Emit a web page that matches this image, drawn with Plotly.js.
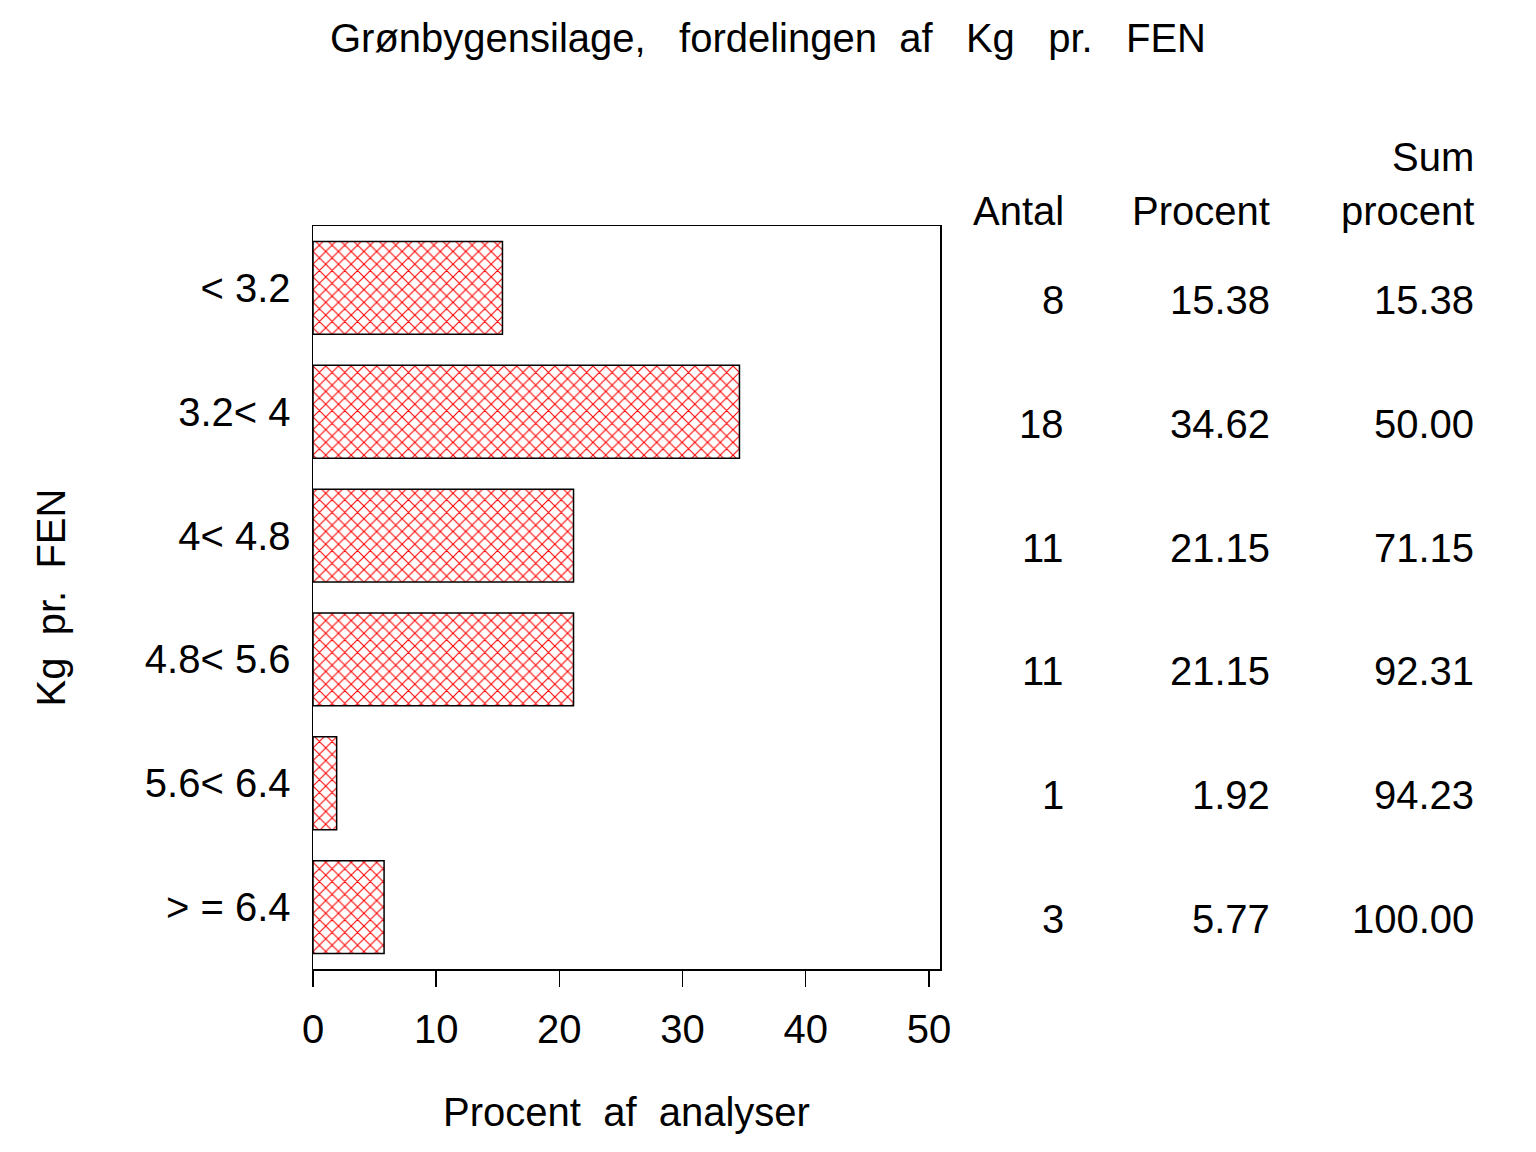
<!DOCTYPE html>
<html>
<head>
<meta charset="utf-8">
<script src="https://cdn.plot.ly/plotly-3.0.1.min.js"></script>
<style>html,body{margin:0;padding:0;background:#fff;}</style>
</head>
<body>
<div id="chart" style="width:1536px;height:1152px;"></div>
<script>
var categories = ["< 3.2", "3.2< 4", "4< 4.8", "4.8< 5.6", "5.6< 6.4", "> = 6.4"];
var antal = [8, 18, 11, 11, 1, 3];
var procent = [15.38, 34.62, 21.15, 21.15, 1.92, 5.77];
var sumProcent = [15.38, 50.00, 71.15, 92.31, 94.23, 100.00];
var xTicks = [0, 10, 20, 30, 40, 50];
var headerTop = ["", "", "Sum"];
var headerBottom = ["Antal", "Procent", "procent"];
var titleText = "Grønbygensilage,\u00a0\u00a0 fordelingen\u00a0 af\u00a0\u00a0 Kg\u00a0\u00a0 pr.\u00a0\u00a0 FEN";
var xTitle = "Procent\u00a0 af\u00a0 analyser";
var yTitle = "Kg\u00a0 pr.\u00a0 FEN";

var FONT = "Liberation Sans, Arial, sans-serif";
var colX = [1.2010, 1.5295, 1.8549];

var annotations = [];
var cols = [antal.map(String), procent.map(function(v){return v.toFixed(2);}), sumProcent.map(function(v){return v.toFixed(2);})];
for (var c = 0; c < cols.length; c++) {
  for (var r = 0; r < categories.length; r++) {
    annotations.push({xref: "paper", yref: "y", x: colX[c], y: categories[r], text: cols[c][r],
      xanchor: "right", yanchor: "middle", yshift: -12, showarrow: false,
      font: {family: FONT, size: 40, color: "#000"}});
  }
  if (headerTop[c]) annotations.push({xref: "paper", yref: "paper", x: colX[c], y: (969-157)/743, text: headerTop[c],
      xanchor: "right", yanchor: "middle", showarrow: false, font: {family: FONT, size: 40, color: "#000"}});
  annotations.push({xref: "paper", yref: "paper", x: colX[c], y: (969-211)/743, text: headerBottom[c],
      xanchor: "right", yanchor: "middle", showarrow: false, font: {family: FONT, size: 40, color: "#000"}});
}

var trace = {
  type: "bar", orientation: "h", y: categories, x: procent,
  marker: {color: "#fff", line: {color: "#000", width: 1.5},
    pattern: {shape: "x", fgcolor: "#ff0000", bgcolor: "#ffffff", size: 9, solidity: 0.22}},
  hoverinfo: "skip"
};

var layout = {
  width: 1536, height: 1152,
  margin: {l: 313, r: 596, t: 226, b: 183},
  paper_bgcolor: "#fff", plot_bgcolor: "#fff",
  showlegend: false, bargap: 0.25,
  font: {family: FONT, size: 40, color: "#000"},
  title: {text: titleText, x: 0.5, xref: "container", y: 1 - 38/1152, yref: "container", xanchor: "center", yanchor: "middle",
    font: {family: FONT, size: 40, color: "#000"}},
  xaxis: {range: [0, 50.9], tickvals: xTicks, ticktext: xTicks.map(String), ticks: "outside", ticklen: 16, tickwidth: 1.5, tickcolor: "#000",
    showline: true, linecolor: "#000", linewidth: 1.5, mirror: true, showgrid: false, zeroline: false,
    tickfont: {family: FONT, size: 40, color: "#000"}, ticklabelstandoff: 8,
    title: {text: xTitle, standoff: 48, font: {family: FONT, size: 40, color: "#000"}}, automargin: false, fixedrange: true},
  yaxis: {type: "category", categoryorder: "array", categoryarray: categories, autorange: "reversed", range: [5.5, -0.5],
    ticks: "", showline: true, linecolor: "#000", linewidth: 1.5, mirror: true, showgrid: false, zeroline: false,
    tickfont: {family: FONT, size: 40, color: "#000"}, ticklabelstandoff: 13,
    title: {text: yTitle, standoff: 67, font: {family: FONT, size: 40, color: "#000"}}, automargin: false, fixedrange: true},
  annotations: annotations
};

Plotly.newPlot("chart", [trace], layout, {staticPlot: true, displayModeBar: false});
</script>
</body>
</html>
